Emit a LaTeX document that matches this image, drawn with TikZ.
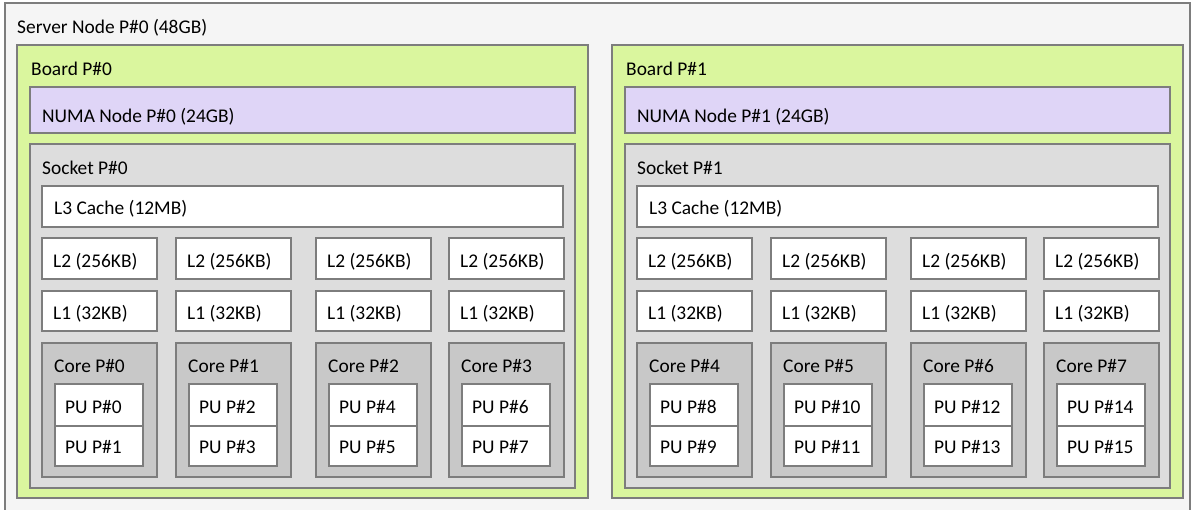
\documentclass[tikz,border=0pt]{standalone}
\usepackage{fontspec}
\setmainfont{Carlito}
\definecolor{srvbg}{RGB}{245,245,245}
\definecolor{boardbg}{RGB}{218,246,158}
\definecolor{numabg}{RGB}{223,213,247}
\definecolor{sockbg}{RGB}{221,221,221}
\definecolor{corebg}{RGB}{200,200,200}
\definecolor{edge}{RGB}{125,125,125}
\newcommand\bx[6]{\pgfmathsetmacro\bw{(#5)-(#3)}\pgfmathsetmacro\bh{(#6)-(#4)}\node[box,fill=#2,minimum width=\bw pt,minimum height=\bh pt] (#1) at (#3,#4) {};}
\begin{document}
\begin{tikzpicture}[x=1pt,y=-1pt,
 box/.style={draw=edge, line width=1.2pt, rectangle, inner sep=0pt, outer sep=0pt, anchor=north west},
 txt/.style={anchor=base west, inner sep=0pt, font=\fontsize{19.4}{23}\selectfont, text=black}]
\useasboundingbox (0,0) rectangle (1194,509);
\bx{server}{srvbg}{5}{3}{1190}{530}
\node[txt] (servert) at (17,33) {Server Node P\#0 (48GB)};
\foreach \h/\ox in {0/0,1/595}{
  \bx{board\h}{boardbg}{17+\ox}{45}{588+\ox}{498}
  \node[txt] (boardt\h) at (31+\ox,75) {Board P\#\h};
  \bx{numa\h}{numabg}{30+\ox}{87}{575+\ox}{133}
  \node[txt] (numat\h) at (42+\ox,122) {NUMA Node P\#\h{} (24GB)};
  \bx{sock\h}{sockbg}{30+\ox}{144}{575+\ox}{488}
  \node[txt] (sockt\h) at (42+\ox,174) {Socket P\#\h};
  \bx{l3\h}{white}{42+\ox}{186}{563+\ox}{227}
  \node[txt] (l3t\h) at (54+\ox,214) {L3 Cache (12MB)};
  \foreach \c/\cx in {0/42,1/176,2/316,3/449}{
    \pgfmathtruncatemacro\X{\ox+\cx}
    \pgfmathtruncatemacro\core{4*\h+\c}
    \pgfmathtruncatemacro\pa{2*\core}
    \pgfmathtruncatemacro\pb{2*\core+1}
    \bx{l2-\h-\c}{white}{\X}{238}{\X+115}{279}
    \node[txt] (l2t-\h-\c) at (\X+11,267) {L2 (256KB)};
    \bx{l1-\h-\c}{white}{\X}{291}{\X+115}{331}
    \node[txt] (l1t-\h-\c) at (\X+11,319) {L1 (32KB)};
    \bx{core-\h-\c}{corebg}{\X}{343}{\X+115}{477}
    \node[txt] (coret-\h-\c) at (\X+12,372) {Core P\#\core};
    \bx{pua-\h-\c}{white}{\X+13}{384}{\X+101}{426}
    \node[txt] (puat-\h-\c) at (\X+23,413) {PU P\#\pa};
    \bx{pub-\h-\c}{white}{\X+13}{426}{\X+101}{466}
    \node[txt] (pubt-\h-\c) at (\X+23,453) {PU P\#\pb};
  }
}
\end{tikzpicture}
\end{document}
